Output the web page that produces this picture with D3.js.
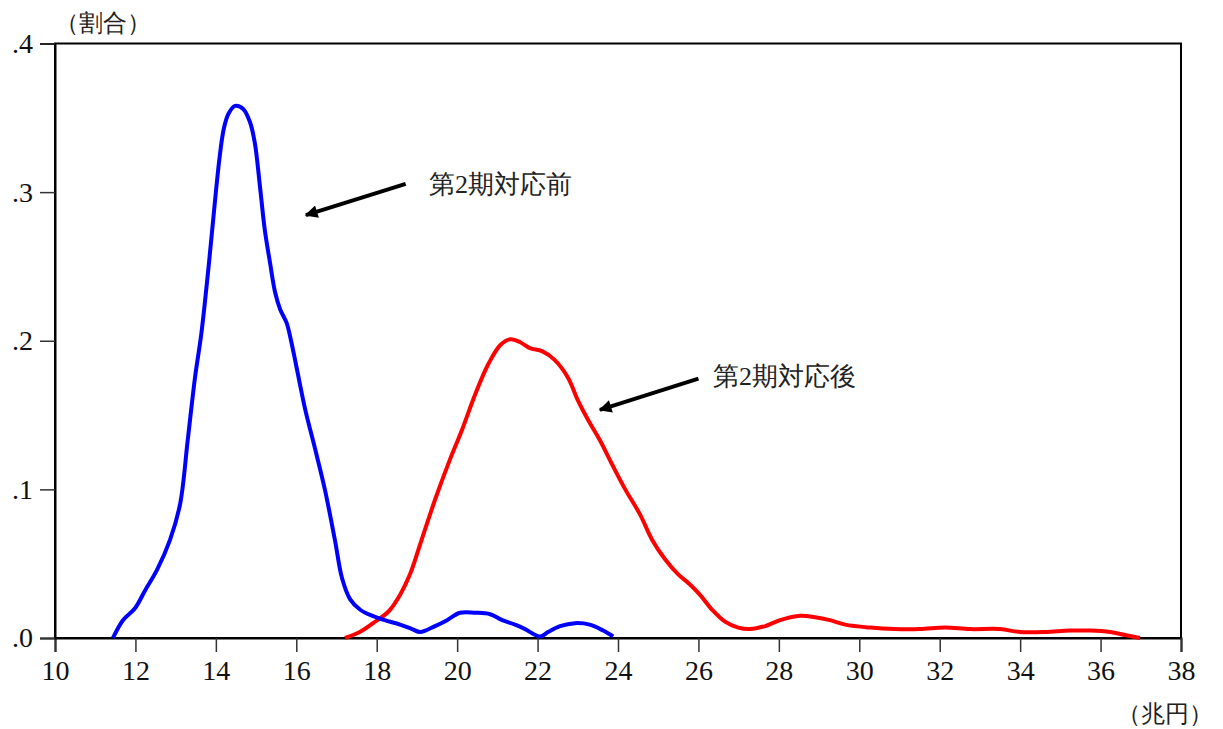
<!DOCTYPE html>
<html>
<head>
<meta charset="utf-8">
<script src="https://cdn.jsdelivr.net/npm/d3@7.9.0/dist/d3.min.js"></script>
<style>
  body { margin: 0; background: #fff; }
  svg { display: block; }
  #chart text { font-family: "Liberation Serif", "Times New Roman", serif; }
</style>
</head>
<body>
<svg id="chart" width="1223" height="729"></svg>
<script>
// data
const beforeX = [11.44, 11.69, 11.99, 12.24, 12.54, 12.86, 13.11, 13.3, 13.48, 13.64, 13.82, 14.0, 14.1, 14.2, 14.32, 14.48, 14.68, 14.85, 14.97, 15.1, 15.22, 15.35, 15.47, 15.6, 15.76, 15.87, 16.0, 16.22, 16.47, 16.71, 16.96, 17.14, 17.34, 17.59, 17.88, 18.2, 18.58, 18.88, 19.08, 19.45, 19.75, 20.07, 20.45, 20.82, 21.12, 21.44, 21.69, 22.06, 22.26, 22.56, 22.93, 23.3, 23.63, 23.88];
const beforeY = [0, 0.012, 0.02, 0.032, 0.046, 0.066, 0.09, 0.133, 0.175, 0.205, 0.25, 0.3, 0.325, 0.343, 0.353, 0.358, 0.356, 0.347, 0.333, 0.303, 0.274, 0.252, 0.233, 0.221, 0.212, 0.2, 0.183, 0.154, 0.127, 0.1, 0.066, 0.04, 0.026, 0.019, 0.015, 0.012, 0.009, 0.006, 0.004, 0.008, 0.012, 0.017, 0.017, 0.016, 0.012, 0.009, 0.006, 0.001, 0.004, 0.008, 0.01, 0.009, 0.005, 0.001];

const afterX = [17.21, 17.58, 17.91, 18.3, 18.58, 18.83, 19.08, 19.45, 19.82, 20.12, 20.45, 20.77, 21.07, 21.32, 21.57, 21.81, 22.11, 22.43, 22.76, 23.0, 23.25, 23.55, 23.85, 24.18, 24.55, 24.85, 25.17, 25.49, 25.79, 26.04, 26.34, 26.66, 26.99, 27.28, 27.66, 28.03, 28.53, 28.9, 29.27, 29.65, 30.27, 30.89, 31.51, 32.13, 32.76, 33.5, 34.0, 34.62, 35.24, 35.74, 36.24, 36.61, 36.98];
const afterY = [0, 0.004, 0.01, 0.018, 0.029, 0.043, 0.063, 0.093, 0.12, 0.14, 0.164, 0.184, 0.197, 0.201, 0.199, 0.195, 0.193, 0.187, 0.175, 0.16, 0.147, 0.133, 0.117, 0.1, 0.083, 0.066, 0.053, 0.043, 0.036, 0.029, 0.019, 0.011, 0.007, 0.006, 0.008, 0.012, 0.015, 0.014, 0.012, 0.009, 0.007, 0.006, 0.006, 0.007, 0.006, 0.006, 0.004, 0.004, 0.005, 0.005, 0.004, 0.002, 0];

const xTicks = [10, 12, 14, 16, 18, 20, 22, 24, 26, 28, 30, 32, 34, 36, 38];
const yTicks = [0, 0.1, 0.2, 0.3, 0.4];
const yTickLabels = [".0", ".1", ".2", ".3", ".4"];

const labelBefore = "第2期対応前";
const labelAfter = "第2期対応後";

const FONT = "'Liberation Serif', 'Times New Roman', serif";

const svg = d3.select("#chart");
let margin = { top: 43.5, right: 42, bottom: 91, left: 55 };
let width = 1223 - margin.left - margin.right;
let height = 729 - margin.top - margin.bottom;
let g = svg.append("g").attr("transform", `translate(${margin.left},${margin.top})`);

let xScale = d3.scaleLinear().domain([10, 38]).range([0, width]);
let yScale = d3.scaleLinear().domain([0, 0.4]).range([height, 0]);

// frame
g.append("rect")
  .attr("width", width).attr("height", height)
  .attr("fill", "none").attr("stroke", "#000").attr("stroke-width", 2);

// x axis
let xAxis = g.append("g").attr("transform", `translate(0,${height})`)
  .call(d3.axisBottom(xScale).tickValues(xTicks).tickSize(14).tickPadding(8).tickFormat(d3.format("d")));
xAxis.attr("font-family", FONT).attr("font-size", 28);
xAxis.select(".domain").attr("stroke-width", 2);
xAxis.selectAll(".tick line").attr("stroke", "#333").attr("stroke-width", 1.5);
xAxis.selectAll(".tick text").attr("fill", "#111");

// y axis
let yAxis = g.append("g")
  .call(d3.axisLeft(yScale).tickValues(yTicks).tickSize(15).tickPadding(7)
    .tickFormat((d, i) => yTickLabels[i]));
yAxis.attr("font-family", FONT).attr("font-size", 28);
yAxis.select(".domain").attr("stroke-width", 2);
yAxis.selectAll(".tick line").attr("stroke", "#333").attr("stroke-width", 1.5);
yAxis.selectAll(".tick text").attr("fill", "#111");

// lines
let line = d3.line()
  .x(d => xScale(d[0]))
  .y(d => yScale(d[1]))
  .curve(d3.curveCatmullRom.alpha(0.5));

g.append("path")
  .datum(d3.zip(afterX, afterY))
  .attr("fill", "none")
  .attr("stroke", "#ff0000")
  .attr("stroke-width", 4)
  .attr("stroke-linejoin", "round")
  .attr("d", line);

g.append("path")
  .datum(d3.zip(beforeX, beforeY))
  .attr("fill", "none")
  .attr("stroke", "#0000ff")
  .attr("stroke-width", 4)
  .attr("stroke-linejoin", "round")
  .attr("d", line);

// arrows
svg.append("defs").append("marker")
  .attr("id", "head")
  .attr("viewBox", "0 0 10 10")
  .attr("refX", 9).attr("refY", 5)
  .attr("markerWidth", 4).attr("markerHeight", 3.2)
  .attr("markerUnits", "strokeWidth")
  .attr("orient", "auto")
  .append("path").attr("d", "M0,0 L10,5 L0,10 Z").attr("fill", "#000");

function addArrow(x1, y1, x2, y2) {
  g.append("line")
    .attr("x1", xScale(x1)).attr("y1", yScale(y1))
    .attr("x2", xScale(x2)).attr("y2", yScale(y2))
    .attr("stroke", "#000").attr("stroke-width", 4)
    .attr("marker-end", "url(#head)");
}
addArrow(18.72, 0.3055, 16.24, 0.2845);
addArrow(26.0, 0.1745, 23.55, 0.1535);

// annotations
g.append("text")
  .attr("x", xScale(19.3)).attr("y", yScale(0.2997))
  .attr("font-family", FONT).attr("font-size", 26).attr("fill", "#222")
  .text(labelBefore);
g.append("text")
  .attr("x", xScale(26.36)).attr("y", yScale(0.1700))
  .attr("font-family", FONT).attr("font-size", 26).attr("fill", "#222")
  .text(labelAfter);

// unit labels
svg.append("text")
  .attr("x", 55).attr("y", 31)
  .attr("font-family", FONT).attr("font-size", 24).attr("fill", "#222")
  .text("（割合）");
svg.append("text")
  .attr("x", 1213).attr("y", 722)
  .attr("text-anchor", "end")
  .attr("font-family", FONT).attr("font-size", 24).attr("fill", "#222")
  .text("（兆円）");
</script>
</body>
</html>
